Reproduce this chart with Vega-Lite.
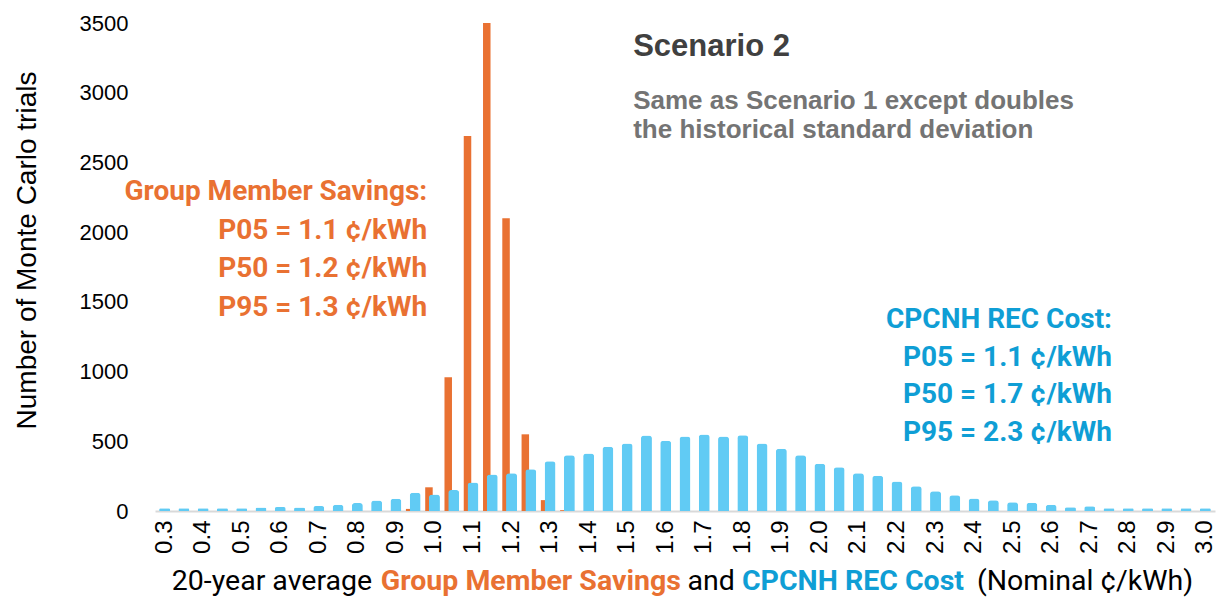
{
  "$schema": "https://vega.github.io/schema/vega-lite/v6.json",
  "autosize": {"type": "none"},
  "width": 1060,
  "height": 488,
  "padding": {"left": 155, "top": 23, "right": 1, "bottom": 92},
  "background": "white",
  "config": {"view": {"stroke": null}},
  "datasets": {
    "rec": [
      {"x": 0.3, "n": 20}, {"x": 0.35, "n": 20}, {"x": 0.4, "n": 20}, {"x": 0.45, "n": 20}, {"x": 0.5, "n": 20},
      {"x": 0.55, "n": 25}, {"x": 0.6, "n": 28}, {"x": 0.65, "n": 25}, {"x": 0.7, "n": 35}, {"x": 0.75, "n": 45},
      {"x": 0.8, "n": 57}, {"x": 0.85, "n": 75}, {"x": 0.9, "n": 87}, {"x": 0.95, "n": 130}, {"x": 1, "n": 118},
      {"x": 1.05, "n": 150}, {"x": 1.1, "n": 205}, {"x": 1.15, "n": 262}, {"x": 1.2, "n": 270}, {"x": 1.25, "n": 300},
      {"x": 1.3, "n": 357}, {"x": 1.35, "n": 400}, {"x": 1.4, "n": 412}, {"x": 1.45, "n": 460}, {"x": 1.5, "n": 484},
      {"x": 1.55, "n": 541}, {"x": 1.6, "n": 503}, {"x": 1.65, "n": 534}, {"x": 1.7, "n": 549}, {"x": 1.75, "n": 534},
      {"x": 1.8, "n": 544}, {"x": 1.85, "n": 484}, {"x": 1.9, "n": 446}, {"x": 1.95, "n": 400}, {"x": 2, "n": 338},
      {"x": 2.05, "n": 314}, {"x": 2.1, "n": 271}, {"x": 2.15, "n": 252}, {"x": 2.2, "n": 211}, {"x": 2.25, "n": 177},
      {"x": 2.3, "n": 141}, {"x": 2.35, "n": 113}, {"x": 2.4, "n": 89}, {"x": 2.45, "n": 77}, {"x": 2.5, "n": 62},
      {"x": 2.55, "n": 60}, {"x": 2.6, "n": 45}, {"x": 2.65, "n": 26}, {"x": 2.7, "n": 34}, {"x": 2.75, "n": 20},
      {"x": 2.8, "n": 20}, {"x": 2.85, "n": 20}, {"x": 2.9, "n": 20}, {"x": 2.95, "n": 20}, {"x": 3, "n": 20}
    ],
    "savings": [
      {"x": 0.95, "n": 15}, {"x": 1, "n": 170}, {"x": 1.05, "n": 960}, {"x": 1.1, "n": 2690},
      {"x": 1.15, "n": 3500}, {"x": 1.2, "n": 2100}, {"x": 1.25, "n": 550}, {"x": 1.3, "n": 78}, {"x": 1.35, "n": 6}
    ],
    "one": [{"a": 1}]
  },
  "layer": [
    {
      "data": {"name": "savings"},
      "mark": {"type": "bar", "color": "#E97132", "size": 7.5, "xOffset": -5.5},
      "encoding": {
        "x": {"field": "x", "type": "ordinal", "scale": {"paddingInner": 0, "paddingOuter": 0}},
        "y": {"field": "n", "type": "quantitative", "scale": {"domain": [0, 3500], "nice": false}}
      }
    },
    {
      "data": {"name": "rec"},
      "mark": {"type": "bar", "color": "#61CBF4", "size": 11, "cornerRadiusTopLeft": 3, "cornerRadiusTopRight": 3},
      "encoding": {
        "x": {
          "field": "x", "type": "ordinal",
          "scale": {"paddingInner": 0, "paddingOuter": 0},
          "axis": {
            "title": null,
            "values": [0.3, 0.4, 0.5, 0.6, 0.7, 0.8, 0.9, 1, 1.1, 1.2, 1.3, 1.4, 1.5, 1.6, 1.7, 1.8, 1.9, 2, 2.1, 2.2, 2.3, 2.4, 2.5, 2.6, 2.7, 2.8, 2.9, 3],
            "labelExpr": "format(datum.value, '.1f')",
            "labelAngle": -90,
            "labelFont": "Liberation Sans",
            "labelFontSize": 24,
            "labelColor": "#000000",
            "labelPadding": 9,
            "ticks": false,
            "domainColor": "#d9d9d9",
            "domainWidth": 2,
            "grid": false
          }
        },
        "y": {
          "field": "n", "type": "quantitative",
          "scale": {"domain": [0, 3500], "nice": false},
          "axis": {
            "values": [0, 500, 1000, 1500, 2000, 2500, 3000, 3500],
            "format": "d",
            "grid": false, "domain": false, "ticks": false,
            "labelFont": "Liberation Sans", "labelFontSize": 22, "labelColor": "#000000", "labelPadding": 27,
            "title": "Number of Monte Carlo trials",
            "titleFont": "Liberation Sans", "titleFontSize": 28, "titleFontWeight": "normal", "titleColor": "#000000",
            "titleAngle": 270, "titleAlign": "center", "titleBaseline": "middle",
            "titleX": -128, "titleY": 227
          }
        }
      }
    },
    {
      "data": {"name": "one"},
      "mark": {"type": "text", "align": "left", "baseline": "middle", "font": "Liberation Sans", "fontWeight": "bold", "fontSize": 31, "color": "#404040", "dx": 6},
      "encoding": {"x": {"datum": 1.5, "type": "ordinal"}, "y": {"datum": 3328, "type": "quantitative"}, "text": {"value": "Scenario 2"}}
    },
    {
      "data": {"name": "one"},
      "mark": {"type": "text", "align": "left", "baseline": "middle", "font": "Liberation Sans", "fontWeight": "bold", "fontSize": 26, "color": "#747474", "dx": 6, "lineHeight": 29},
      "encoding": {"x": {"datum": 1.5, "type": "ordinal"}, "y": {"datum": 2941, "type": "quantitative"}, "text": {"value": ["Same as Scenario 1 except doubles", "the historical standard deviation"]}}
    },
    {
      "data": {"name": "one"},
      "mark": {"type": "text", "align": "right", "baseline": "middle", "font": "Roboto", "fontWeight": "bold", "fontSize": 28, "color": "#E97132", "dx": 12, "lineHeight": 38.7},
      "encoding": {"x": {"datum": 0.95, "type": "ordinal"}, "y": {"datum": 2288, "type": "quantitative"}, "text": {"value": ["Group Member Savings:", "P05 = 1.1 ¢/kWh", "P50 = 1.2 ¢/kWh", "P95 = 1.3 ¢/kWh"]}}
    },
    {
      "data": {"name": "one"},
      "mark": {"type": "text", "align": "right", "baseline": "middle", "font": "Roboto", "fontWeight": "bold", "fontSize": 28, "color": "#0F9ED5", "dx": 3, "lineHeight": 37.7},
      "encoding": {"x": {"datum": 2.75, "type": "ordinal"}, "y": {"datum": 1370, "type": "quantitative"}, "text": {"value": ["CPCNH REC Cost:", "P05 = 1.1 ¢/kWh", "P50 = 1.7 ¢/kWh", "P95 = 2.3 ¢/kWh"]}}
    },
    {
      "data": {"name": "one"},
      "mark": {"type": "text", "align": "center", "baseline": "middle", "font": "Roboto", "fontSize": 28.5, "color": "#000000", "dx": -8.3},
      "encoding": {"x": {"datum": 0.6, "type": "ordinal"}, "y": {"datum": -502, "type": "quantitative"}, "text": {"value": "20-year average"}}
    },
    {
      "data": {"name": "one"},
      "mark": {"type": "text", "align": "center", "baseline": "middle", "font": "Roboto", "fontWeight": "bold", "fontSize": 28.5, "color": "#E97132", "dx": 0},
      "encoding": {"x": {"datum": 1.25, "type": "ordinal"}, "y": {"datum": -502, "type": "quantitative"}, "text": {"value": "Group Member Savings"}}
    },
    {
      "data": {"name": "one"},
      "mark": {"type": "text", "align": "center", "baseline": "middle", "font": "Roboto", "fontSize": 28.5, "color": "#000000", "dx": 7},
      "encoding": {"x": {"datum": 1.7, "type": "ordinal"}, "y": {"datum": -502, "type": "quantitative"}, "text": {"value": "and"}}
    },
    {
      "data": {"name": "one"},
      "mark": {"type": "text", "align": "center", "baseline": "middle", "font": "Roboto", "fontWeight": "bold", "fontSize": 28.5, "color": "#0F9ED5", "dx": -5.5},
      "encoding": {"x": {"datum": 2.1, "type": "ordinal"}, "y": {"datum": -502, "type": "quantitative"}, "text": {"value": "CPCNH REC Cost"}}
    },
    {
      "data": {"name": "one"},
      "mark": {"type": "text", "align": "center", "baseline": "middle", "font": "Roboto", "fontSize": 28.5, "color": "#000000", "dx": -4.7},
      "encoding": {"x": {"datum": 2.7, "type": "ordinal"}, "y": {"datum": -502, "type": "quantitative"}, "text": {"value": "(Nominal ¢/kWh)"}}
    }
  ]
}
